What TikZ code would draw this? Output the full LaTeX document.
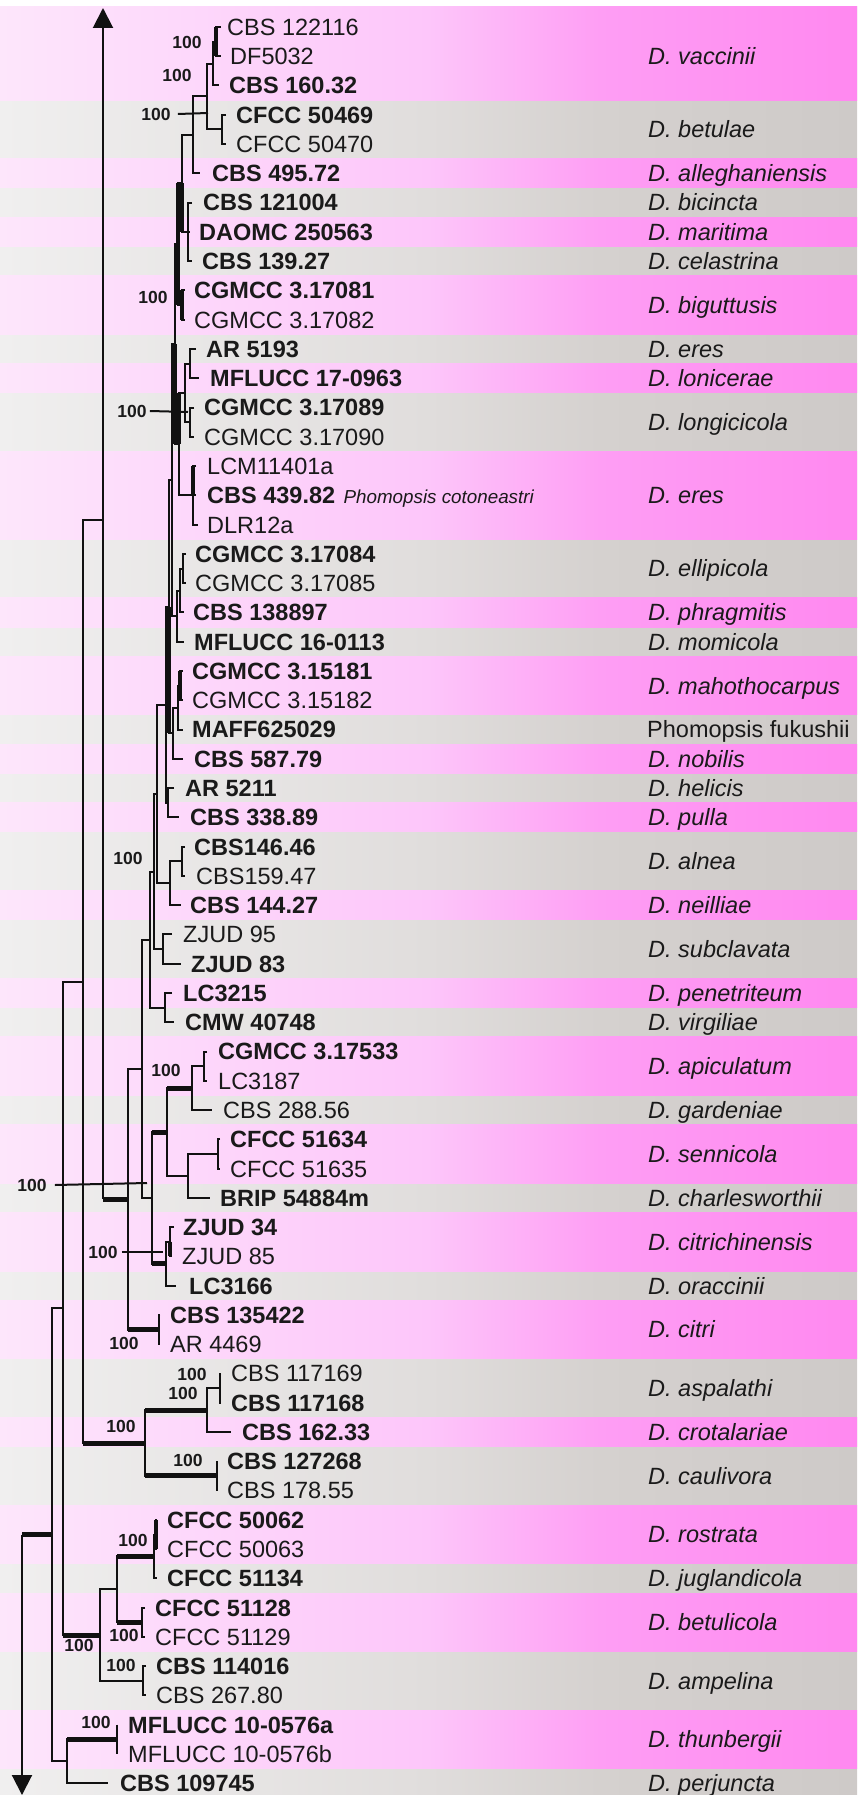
\documentclass[tikz,border=0pt]{standalone}
\usepackage{fontspec}
\setmainfont{Liberation Sans}
\usetikzlibrary{arrows.meta}
\definecolor{pA}{HTML}{FDE6FB}
\definecolor{pB}{HTML}{FDC6FA}
\definecolor{pC}{HTML}{FE9EF4}
\definecolor{pD}{HTML}{FF88F0}
\definecolor{gA}{HTML}{F0EFEF}
\definecolor{gB}{HTML}{E0DDDC}
\definecolor{gC}{HTML}{D5D1CF}
\definecolor{gD}{HTML}{CECAC8}
\definecolor{linec}{HTML}{111111}
\definecolor{txt}{HTML}{1A1A1A}
\pgfdeclarehorizontalshading{pinkband}{100bp}{color(0bp)=(pA); color(25bp)=(pA); color(50bp)=(pB); color(60bp)=(pC); color(75bp)=(pD); color(100bp)=(pD)}
\pgfdeclarehorizontalshading{grayband}{100bp}{color(0bp)=(gA); color(25bp)=(gA); color(50bp)=(gB); color(60bp)=(gC); color(75bp)=(gD); color(100bp)=(gD)}
\newcommand{\elbow}[3]{\draw[br] (#2) -| (#1) |- (#3);}
\tikzset{
 br/.style={line width=2pt, draw=linec},
 thk/.style={line width=5pt},
 vthk/.style={line width=4pt},
 lr/.style={anchor=west, inner sep=0pt, text height=16.8pt, text depth=0pt, text=txt, font=\fontsize{23.5}{28}\selectfont},
 lb/.style={lr, font=\fontsize{23.5}{28}\selectfont\bfseries},
 spn/.style={lr, font=\fontsize{23.5}{28}\selectfont\itshape},
 sup/.style={inner sep=0pt, text height=12.5pt, text depth=0pt, text=txt, font=\fontsize{17.5}{20}\selectfont\bfseries},
 note/.style={anchor=base west, inner sep=0pt, text=txt, font=\fontsize{18.8}{22}\selectfont\itshape},
 arr/.style={-{Triangle[width=20pt,length=20pt]}}
}
\begin{document}
\begin{tikzpicture}[x=1pt,y=-1pt]
\useasboundingbox (0,0) rectangle (857,1795);
\fill[white] (0,0) rectangle (857,1795);
% background bands
\shade[shading=grayband] (0,7) rectangle (857,1795);
\foreach \a/\b in {7/100.2,158.7/188.0,217.2/246.5,275.8/334.3,363.6/392.9,451.4/539.3,597.8/627.1,656.3/714.9,744.1/773.4,802.7/831.9,890.5/919.7,978.3/1007.6,1036.8/1095.4,1124.6/1183.2,1212.5/1271.0,1300.3/1358.8,1417.4/1446.6,1505.2/1563.7,1593.0/1651.5,1710.1/1768.6}
 {\shade[shading=pinkband] (0,\a) rectangle (857,\b);}
% leaves: tips and labels
\coordinate (L1) at (221,27.0);  \node[lr] (t1) at (227,27.0) {CBS 122116};
\coordinate (L2) at (221,56.3);  \node[lr] (t2) at (230,56.3) {DF5032};
\coordinate (L3) at (219,85.5);  \node[lb] (t3) at (229,85.5) {CBS 160.32};
\coordinate (L4) at (226,114.8); \node[lb] (t4) at (236,114.8) {CFCC 50469};
\coordinate (L5) at (226,144.1); \node[lr] (t5) at (236,144.1) {CFCC 50470};
\coordinate (L6) at (200,173.4); \node[lb] (t6) at (212,173.4) {CBS 495.72};
\coordinate (L7) at (192,202.6); \node[lb] (t7) at (203,202.6) {CBS 121004};
\coordinate (L8) at (190,231.9); \node[lb] (t8) at (199,231.9) {DAOMC 250563};
\coordinate (L9) at (192,261.2); \node[lb] (t9) at (202,261.2) {CBS 139.27};
\coordinate (L10) at (185,290.4); \node[lb] (t10) at (194,290.4) {CGMCC 3.17081};
\coordinate (L11) at (185,319.7); \node[lr] (t11) at (194,319.7) {CGMCC 3.17082};
\coordinate (L12) at (196,349.0); \node[lb] (t12) at (206,349.0) {AR 5193};
\coordinate (L13) at (199,378.2); \node[lb] (t13) at (210,378.2) {MFLUCC 17-0963};
\coordinate (L14) at (194,407.5); \node[lb] (t14) at (204,407.5) {CGMCC 3.17089};
\coordinate (L15) at (194,436.8); \node[lr] (t15) at (204,436.8) {CGMCC 3.17090};
\coordinate (L16) at (196,466.1); \node[lr] (t16) at (207,466.1) {LCM11401a};
\coordinate (L17) at (196,495.3); \node[lb] (t17) at (207,495.3) {CBS 439.82};
\coordinate (L18) at (198,524.6); \node[lr] (t18) at (207,524.6) {DLR12a};
\coordinate (L19) at (186,553.9); \node[lb] (t19) at (195,553.9) {CGMCC 3.17084};
\coordinate (L20) at (186,583.1); \node[lr] (t20) at (195,583.1) {CGMCC 3.17085};
\coordinate (L21) at (184,612.4); \node[lb] (t21) at (193,612.4) {CBS 138897};
\coordinate (L22) at (184,641.7); \node[lb] (t22) at (194,641.7) {MFLUCC 16-0113};
\coordinate (L23) at (183,671.0); \node[lb] (t23) at (192,671.0) {CGMCC 3.15181};
\coordinate (L24) at (183,700.2); \node[lr] (t24) at (192,700.2) {CGMCC 3.15182};
\coordinate (L25) at (183,729.5); \node[lb] (t25) at (192,729.5) {MAFF625029};
\coordinate (L26) at (183,758.8); \node[lb] (t26) at (194,758.8) {CBS 587.79};
\coordinate (L27) at (174,788.0); \node[lb] (t27) at (185,788.0) {AR 5211};
\coordinate (L28) at (179,817.3); \node[lb] (t28) at (190,817.3) {CBS 338.89};
\coordinate (L29) at (185,846.6); \node[lb] (t29) at (194,846.6) {CBS146.46};
\coordinate (L30) at (185,875.8); \node[lr] (t30) at (196,875.8) {CBS159.47};
\coordinate (L31) at (181,905.1); \node[lb] (t31) at (190,905.1) {CBS 144.27};
\coordinate (L32) at (172,934.4); \node[lr] (t32) at (183,934.4) {ZJUD 95};
\coordinate (L33) at (181,963.7); \node[lb] (t33) at (191,963.7) {ZJUD 83};
\coordinate (L34) at (172,992.9); \node[lb] (t34) at (183,992.9) {LC3215};
\coordinate (L35) at (174,1022.2); \node[lb] (t35) at (185,1022.2) {CMW 40748};
\coordinate (L36) at (207,1051.5); \node[lb] (t36) at (218,1051.5) {CGMCC 3.17533};
\coordinate (L37) at (207,1080.7); \node[lr] (t37) at (218,1080.7) {LC3187};
\coordinate (L38) at (212,1110.0); \node[lr] (t38) at (223,1110.0) {CBS 288.56};
\coordinate (L39) at (220,1139.3); \node[lb] (t39) at (230,1139.3) {CFCC 51634};
\coordinate (L40) at (220,1168.6); \node[lr] (t40) at (230,1168.6) {CFCC 51635};
\coordinate (L41) at (210,1197.8); \node[lb] (t41) at (220,1197.8) {BRIP 54884m};
\coordinate (L42) at (174,1227.1); \node[lb] (t42) at (183,1227.1) {ZJUD 34};
\coordinate (L43) at (172,1256.4); \node[lr] (t43) at (182,1256.4) {ZJUD 85};
\coordinate (L44) at (176,1285.6); \node[lb] (t44) at (189,1285.6) {LC3166};
\coordinate (L45) at (160,1314.9); \node[lb] (t45) at (170,1314.9) {CBS 135422};
\coordinate (L46) at (160,1344.2); \node[lr] (t46) at (170,1344.2) {AR 4469};
\coordinate (L47) at (221,1373.5); \node[lr] (t47) at (231,1373.5) {CBS 117169};
\coordinate (L48) at (221,1402.7); \node[lb] (t48) at (231,1402.7) {CBS 117168};
\coordinate (L49) at (231,1432.0); \node[lb] (t49) at (242,1432.0) {CBS 162.33};
\coordinate (L50) at (217,1461.3); \node[lb] (t50) at (227,1461.3) {CBS 127268};
\coordinate (L51) at (217,1490.5); \node[lr] (t51) at (227,1490.5) {CBS 178.55};
\coordinate (L52) at (157,1519.8); \node[lb] (t52) at (167,1519.8) {CFCC 50062};
\coordinate (L53) at (157,1549.1); \node[lr] (t53) at (167,1549.1) {CFCC 50063};
\coordinate (L54) at (157,1578.4); \node[lb] (t54) at (167,1578.4) {CFCC 51134};
\coordinate (L55) at (145,1607.6); \node[lb] (t55) at (155,1607.6) {CFCC 51128};
\coordinate (L56) at (145,1636.9); \node[lr] (t56) at (155,1636.9) {CFCC 51129};
\coordinate (L57) at (146,1666.2); \node[lb] (t57) at (156,1666.2) {CBS 114016};
\coordinate (L58) at (146,1695.4); \node[lr] (t58) at (156,1695.4) {CBS 267.80};
\coordinate (L59) at (117,1724.7); \node[lb] (t59) at (128,1724.7) {MFLUCC 10-0576a};
\coordinate (L60) at (117,1754.0); \node[lr] (t60) at (128,1754.0) {MFLUCC 10-0576b};
\coordinate (L61) at (108,1783.2); \node[lb] (t61) at (120,1783.2) {CBS 109745};
\node[note] (n17) at ([xshift=8pt]t17.base east) {Phomopsis cotoneastri};
% internal nodes
\coordinate (V1) at (216,41.7);
\coordinate (V2) at (213,63.6);
\coordinate (B1) at (222,129.5);
\coordinate (VB) at (207,96.5);
\coordinate (A1) at (193,135.0);
\coordinate (BMC) at (188,231.9);
\coordinate (A2) at (182,183.5);
\coordinate (BG) at (182,305.1);
\coordinate (A3) at (178,244.3);
\coordinate (AM) at (190,363.6);
\coordinate (LG) at (190,422.2);
\coordinate (A4) at (185,392.9);
\coordinate (E) at (193,495.3);
\coordinate (A5) at (179,444.1);
\coordinate (A6) at (175,344.2);
\coordinate (EL) at (183,568.5);
\coordinate (PM) at (180,590.5);
\coordinate (A7) at (177,616.1);
\coordinate (MA) at (180,685.6);
\coordinate (A8) at (178,707.6);
\coordinate (T) at (172,480.2);
\coordinate (M) at (173,733.2);
\coordinate (C) at (169,606.7);
\coordinate (HP) at (168,802.7);
\coordinate (HPC) at (166,704.7);
\coordinate (AL) at (182,861.2);
\coordinate (ALN) at (170,883.2);
\coordinate (X157) at (157,794.0);
\coordinate (ZJ) at (163,949.0);
\coordinate (Y) at (154,871.5);
\coordinate (LV) at (165,1007.6);
\coordinate (X150) at (150,939.5);
\coordinate (AP) at (204,1066.1);
\coordinate (APG) at (192,1088.1);
\coordinate (SE) at (218,1153.9);
\coordinate (SEC) at (188,1175.9);
\coordinate (X167) at (167,1132.0);
\coordinate (ZJ2) at (170,1241.7);
\coordinate (CIT) at (166,1263.7);
\coordinate (X152) at (152,1197.9);
\coordinate (X142) at (142,1068.7);
\coordinate (CI) at (159,1329.5);
\coordinate (X128) at (128,1199.1);
\coordinate (X103) at (103,520.0);
\coordinate (topend) at (103,8);
\coordinate (ASP) at (220,1388.1);
\coordinate (ASC) at (207,1410.1);
\coordinate (CAU) at (217,1475.9);
\coordinate (X145) at (145,1443.0);
\coordinate (X83) at (83,981.5);
\coordinate (ROS1) at (156,1534.5);
\coordinate (ROS) at (154,1556.4);
\coordinate (BET) at (142,1622.3);
\coordinate (X117) at (117,1589.4);
\coordinate (AMP) at (143,1680.8);
\coordinate (X100) at (100,1635.1);
\coordinate (X63) at (63,1308.3);
\coordinate (THU) at (117,1739.4);
\coordinate (TP) at (67,1761.3);
\coordinate (X52) at (52,1534.8);
\coordinate (R) at (22,1534.8);
\coordinate (botend) at (22,1795);
% branches
\elbow{V1}{L1}{L2}
\elbow{V2}{V1}{L3}
\elbow{B1}{L4}{L5}
\elbow{VB}{V2}{B1}
\elbow{A1}{VB}{L6}
\elbow{BMC}{L7}{L9} \draw[br] (BMC |- L8) -- (L8);
\elbow{A2}{A1}{BMC}
\elbow{BG}{L10}{L11}
\elbow{A3}{A2}{BG}
\elbow{AM}{L12}{L13}
\elbow{LG}{L14}{L15}
\elbow{A4}{AM}{LG}
\elbow{E}{L16}{L18} \draw[br] (E |- L17) -- (L17);
\elbow{A5}{A4}{E}
\elbow{A6}{A3}{A5}
\elbow{EL}{L19}{L20}
\elbow{PM}{EL}{L21}
\elbow{A7}{PM}{L22}
\elbow{T}{A6}{A7}
\elbow{MA}{L23}{L24}
\elbow{A8}{MA}{L25}
\elbow{M}{A8}{L26}
\elbow{C}{T}{M}
\elbow{HP}{L27}{L28}
\elbow{HPC}{C}{HP}
\elbow{AL}{L29}{L30}
\elbow{ALN}{AL}{L31}
\elbow{X157}{HPC}{ALN}
\elbow{ZJ}{L32}{L33}
\elbow{Y}{X157}{ZJ}
\elbow{LV}{L34}{L35}
\elbow{X150}{Y}{LV}
\elbow{AP}{L36}{L37}
\elbow{APG}{AP}{L38}
\elbow{SE}{L39}{L40}
\elbow{SEC}{SE}{L41}
\elbow{X167}{APG}{SEC}
\elbow{ZJ2}{L42}{L43}
\elbow{CIT}{ZJ2}{L44}
\elbow{X152}{X167}{CIT}
\elbow{X142}{X150}{X152}
\elbow{CI}{L45}{L46}
\elbow{X128}{X142}{CI}
\draw[br,arr] (X128 -| X103) -- (topend);
\elbow{ASP}{L47}{L48}
\elbow{ASC}{ASP}{L49}
\elbow{CAU}{L50}{L51}
\elbow{X145}{ASC}{CAU}
\elbow{X83}{X103}{X145}
\elbow{ROS1}{L52}{L53}
\elbow{ROS}{ROS1}{L54}
\elbow{BET}{L55}{L56}
\elbow{X117}{ROS}{BET}
\elbow{AMP}{L57}{L58}
\elbow{X100}{X117}{AMP}
\elbow{X63}{X83}{X100}
\elbow{THU}{L59}{L60}
\elbow{TP}{THU}{L61}
\elbow{X52}{X63}{TP}
\draw[br,arr] (R) -- (botend);
% thick stems
\foreach \p/\c in {X167/APG,X152/X167,X152/CIT,X128/CI,X83/X145,X145/ASC,X145/CAU,X117/ROS,X117/BET,X63/X100,TP/THU}
 {\draw[br,thk] (\p |- \c) -- (\c);}
\draw[br,thk] (X128 -| X103) -- (X128);
\draw[br,thk] (R) -- (X52);
% thick verticals
\foreach \p/\a/\b in {V1/L1/L2,BG/L10/L11,A2/A2/BMC,A3/A2/BG,A6/A6/A5,A5/A4/A5,C/C/M,MA/L23/L24,ROS1/L52/L53,E/L16/L17,ZJ2/ZJ2/L43}
 {\draw[br,vthk] (\p |- \a) -- (\p |- \b);}
% support values
\node[sup] (b1) at (187,42) {100};
\node[sup] (b2) at (177,75) {100};
\node[sup] (b3) at (156,114) {100};
\node[sup] (b4) at (153,297) {100};
\node[sup] (b5) at (132,411) {100};
\node[sup] (b6) at (128,858) {100};
\node[sup] (b7) at (166,1070) {100};
\node[sup] (b8) at (32,1185) {100};
\node[sup] (b9) at (103,1252) {100};
\node[sup] (b10) at (124,1343) {100};
\node[sup] (b11) at (192,1374) {100};
\node[sup] (b12) at (183,1393) {100};
\node[sup] (b13) at (121,1426) {100};
\node[sup] (b14) at (188,1460) {100};
\node[sup] (b15) at (133,1540) {100};
\node[sup] (b16) at (124,1635) {100};
\node[sup] (b17) at (79,1645) {100};
\node[sup] (b18) at (121,1665) {100};
\node[sup] (b19) at (96,1722) {100};
\coordinate (k3) at (208,113);
\coordinate (k5) at (188,412);
\coordinate (k8) at (147,1183);
\coordinate (k9) at (163,1252);
\draw[br] ([xshift=7pt]b3.east) -- (k3);
\draw[br] ([xshift=3pt]b5.east) -- (k5);
\draw[br] ([xshift=8pt]b8.east) -- (k8);
\draw[br] ([xshift=4pt]b9.east) -- (k9);
% species names
\node[spn] (s1) at (648,56.3) {D. vaccinii};
\node[spn] (s2) at (648,129.5) {D. betulae};
\node[spn] (s3) at (648,173.4) {D. alleghaniensis};
\node[spn] (s4) at (648,202.6) {D. bicincta};
\node[spn] (s5) at (648,231.9) {D. maritima};
\node[spn] (s6) at (648,261.2) {D. celastrina};
\node[spn] (s7) at (648,305.1) {D. biguttusis};
\node[spn] (s8) at (648,349.0) {D. eres};
\node[spn] (s9) at (648,378.2) {D. lonicerae};
\node[spn] (s10) at (648,422.2) {D. longicicola};
\node[spn] (s11) at (648,495.3) {D. eres};
\node[spn] (s12) at (648,568.5) {D. ellipicola};
\node[spn] (s13) at (648,612.4) {D. phragmitis};
\node[spn] (s14) at (648,641.7) {D. momicola};
\node[spn] (s15) at (648,685.6) {D. mahothocarpus};
\node[lr] (s16) at (647,729.5) {Phomopsis fukushii};
\node[spn] (s17) at (648,758.8) {D. nobilis};
\node[spn] (s18) at (648,788.0) {D. helicis};
\node[spn] (s19) at (648,817.3) {D. pulla};
\node[spn] (s20) at (648,861.2) {D. alnea};
\node[spn] (s21) at (648,905.1) {D. neilliae};
\node[spn] (s22) at (648,949.0) {D. subclavata};
\node[spn] (s23) at (648,992.9) {D. penetriteum};
\node[spn] (s24) at (648,1022.2) {D. virgiliae};
\node[spn] (s25) at (648,1066.1) {D. apiculatum};
\node[spn] (s26) at (648,1110.0) {D. gardeniae};
\node[spn] (s27) at (648,1153.9) {D. sennicola};
\node[spn] (s28) at (648,1197.8) {D. charlesworthii};
\node[spn] (s29) at (648,1241.7) {D. citrichinensis};
\node[spn] (s30) at (648,1285.6) {D. oraccinii};
\node[spn] (s31) at (648,1329.5) {D. citri};
\node[spn] (s32) at (648,1388.1) {D. aspalathi};
\node[spn] (s33) at (648,1432.0) {D. crotalariae};
\node[spn] (s34) at (648,1475.9) {D. caulivora};
\node[spn] (s35) at (648,1534.5) {D. rostrata};
\node[spn] (s36) at (648,1578.4) {D. juglandicola};
\node[spn] (s37) at (648,1622.3) {D. betulicola};
\node[spn] (s38) at (648,1680.8) {D. ampelina};
\node[spn] (s39) at (648,1739.4) {D. thunbergii};
\node[spn] (s40) at (648,1783.2) {D. perjuncta};
\end{tikzpicture}
\end{document}
